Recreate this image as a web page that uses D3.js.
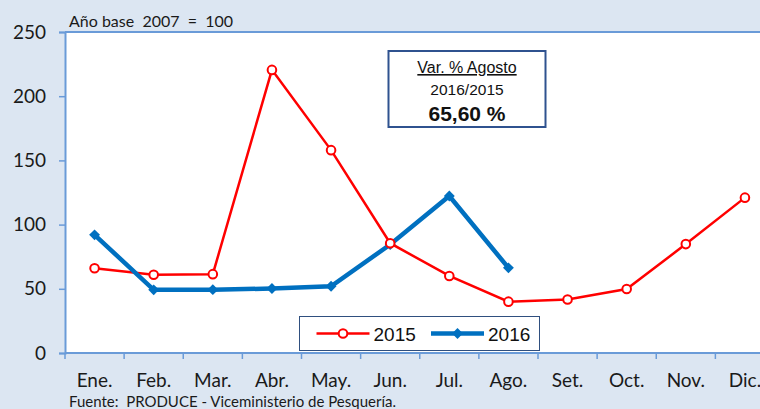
<!DOCTYPE html>
<html>
<head>
<meta charset="utf-8">
<script src="https://cdn.jsdelivr.net/npm/d3@7"></script>
<style>
  html, body { margin: 0; padding: 0; background: #dce6f2; }
  svg { display: block; }
</style>
</head>
<body>
<div id="chart"></div>
<script>
// chart data
var months = ["Ene.", "Feb.", "Mar.", "Abr.", "May.", "Jun.", "Jul.", "Ago.", "Set.", "Oct.", "Nov.", "Dic."];
var values2015 = [66, 61, 61.4, 220.5, 158, 85.5, 60, 40, 41.7, 49.8, 84.8, 121];
var values2016 = [92, 49.2, 49.3, 50.2, 52, 84.5, 122.3, 66.3];
var yTicks = [0, 50, 100, 150, 200, 250];

var W = 760, H = 409;
var plotLeft = 65, plotTop = 32, plotBottom = 353, plotRight = 774.5;

var svg = d3.select("#chart").append("svg")
    .attr("width", W)
    .attr("height", H);

svg.append("rect")
    .attr("width", W).attr("height", H)
    .attr("fill", "#dce6f2");

var x = d3.scaleBand().domain(months).range([plotLeft, plotRight]);
var y = d3.scaleLinear().domain([0, 250]).range([plotBottom, plotTop]);

// plot area
svg.append("rect")
    .attr("x", plotLeft).attr("y", plotTop)
    .attr("width", plotRight - plotLeft).attr("height", plotBottom - plotTop)
    .attr("fill", "#fff");
svg.append("line")
    .attr("x1", plotLeft).attr("x2", W)
    .attr("y1", plotTop).attr("y2", plotTop)
    .attr("stroke", "#6a9bd8").attr("stroke-width", 2);

var axisFont = "Lato, 'Open Sans', sans-serif";
var boxFont = "'Liberation Sans', Arial, sans-serif";

// y axis
var yAxis = svg.append("g")
    .attr("transform", "translate(" + plotLeft + ",0)")
    .call(d3.axisLeft(y).tickValues(yTicks).tickSize(6).tickPadding(13));
yAxis.select(".domain").attr("stroke", "#6a9bd8").attr("stroke-width", 2);
yAxis.selectAll(".tick line").attr("stroke", "#6a9bd8").attr("stroke-width", 1.5);
yAxis.selectAll("text")
    .attr("font-family", axisFont).attr("font-size", 19).attr("fill", "#1a1a1a");

// x axis (ticks on category boundaries)
var xAxis = svg.append("g")
    .attr("transform", "translate(0," + plotBottom + ")");
xAxis.append("line")
    .attr("x1", plotLeft).attr("x2", W)
    .attr("stroke", "#6a9bd8").attr("stroke-width", 2);
xAxis.selectAll(".xt")
    .data(months)
    .enter().append("line")
    .attr("x1", d => x(d)).attr("x2", d => x(d))
    .attr("y1", 0).attr("y2", 6)
    .attr("stroke", "#6a9bd8").attr("stroke-width", 1.5);
xAxis.selectAll(".xl")
    .data(months)
    .enter().append("text")
    .attr("x", d => x(d) + x.bandwidth() / 2)
    .attr("y", 34)
    .attr("text-anchor", "middle")
    .attr("font-family", axisFont).attr("font-size", 19).attr("fill", "#1a1a1a")
    .text(d => d);

var cx = (d, i) => x(months[i]) + x.bandwidth() / 2;
var line = d3.line().x(cx).y(d => y(d));

// 2015
svg.append("path")
    .datum(values2015)
    .attr("d", line)
    .attr("fill", "none")
    .attr("stroke", "#ff0000")
    .attr("stroke-width", 2.5);

// 2016
svg.append("path")
    .datum(values2016)
    .attr("d", line)
    .attr("fill", "none")
    .attr("stroke", "#0070c0")
    .attr("stroke-width", 4.5);

svg.selectAll(".m16")
    .data(values2016)
    .enter().append("path")
    .attr("d", d3.symbol(d3.symbolDiamond2, 75))
    .attr("transform", (d, i) => "translate(" + cx(d, i) + "," + y(d) + ")")
    .attr("fill", "#0070c0");

svg.selectAll(".m15")
    .data(values2015)
    .enter().append("circle")
    .attr("cx", cx).attr("cy", d => y(d))
    .attr("r", 4.3)
    .attr("fill", "#fff")
    .attr("stroke", "#ff0000")
    .attr("stroke-width", 2);

// base note
svg.append("text")
    .attr("x", 69).attr("y", 26.5)
    .attr("font-family", axisFont).attr("font-size", 16).attr("fill", "#1a1a1a")
    .style("white-space", "pre")
    .text("Año base  2007  =  100");

// annotation box
var box = svg.append("g");
box.append("rect")
    .attr("x", 388.5).attr("y", 51)
    .attr("width", 157).attr("height", 76)
    .attr("fill", "#fff")
    .attr("stroke", "#2f528f").attr("stroke-width", 2);
box.append("text")
    .attr("x", 467).attr("y", 73)
    .attr("text-anchor", "middle")
    .attr("font-family", boxFont)
    .attr("font-size", 16).attr("fill", "#111")
    .attr("text-decoration", "underline")
    .text("Var. % Agosto");
box.append("text")
    .attr("x", 467).attr("y", 94.5)
    .attr("text-anchor", "middle")
    .attr("font-family", boxFont)
    .attr("font-size", 15.5).attr("fill", "#111")
    .text("2016/2015");
box.append("text")
    .attr("x", 467).attr("y", 121)
    .attr("text-anchor", "middle")
    .attr("font-family", boxFont)
    .attr("font-size", 21).attr("font-weight", "bold").attr("fill", "#111")
    .text("65,60 %");

// legend
var leg = svg.append("g");
leg.append("rect")
    .attr("x", 299.5).attr("y", 316.5)
    .attr("width", 240).attr("height", 34)
    .attr("fill", "#fff")
    .attr("stroke", "#2f4f7f").attr("stroke-width", 1);
var legItems = [
  { name: "2015", color: "#ff0000", w: 2.5, x0: 316.5 },
  { name: "2016", color: "#0070c0", w: 4.5, x0: 431 }
];
legItems.forEach(function(it) {
  leg.append("line")
      .attr("x1", it.x0).attr("x2", it.x0 + 53)
      .attr("y1", 333.5).attr("y2", 333.5)
      .attr("stroke", it.color).attr("stroke-width", it.w);
  if (it.name === "2015") {
    leg.append("circle")
        .attr("cx", it.x0 + 26.5).attr("cy", 333.5).attr("r", 4.3)
        .attr("fill", "#fff").attr("stroke", it.color).attr("stroke-width", 2);
  } else {
    leg.append("path")
        .attr("d", d3.symbol(d3.symbolDiamond2, 75))
        .attr("transform", "translate(" + (it.x0 + 26.5) + ",333.5)")
        .attr("fill", it.color);
  }
  leg.append("text")
      .attr("x", it.x0 + 57).attr("y", 340.5)
      .attr("font-family", boxFont)
      .attr("font-size", 19).attr("fill", "#111")
      .text(it.name);
});

// source
svg.append("text")
    .attr("x", 69).attr("y", 407)
    .attr("font-family", axisFont).attr("font-size", 15).attr("fill", "#1a1a1a")
    .style("white-space", "pre")
    .text("Fuente:  PRODUCE - Viceministerio de Pesquería.");
</script>
</body>
</html>
